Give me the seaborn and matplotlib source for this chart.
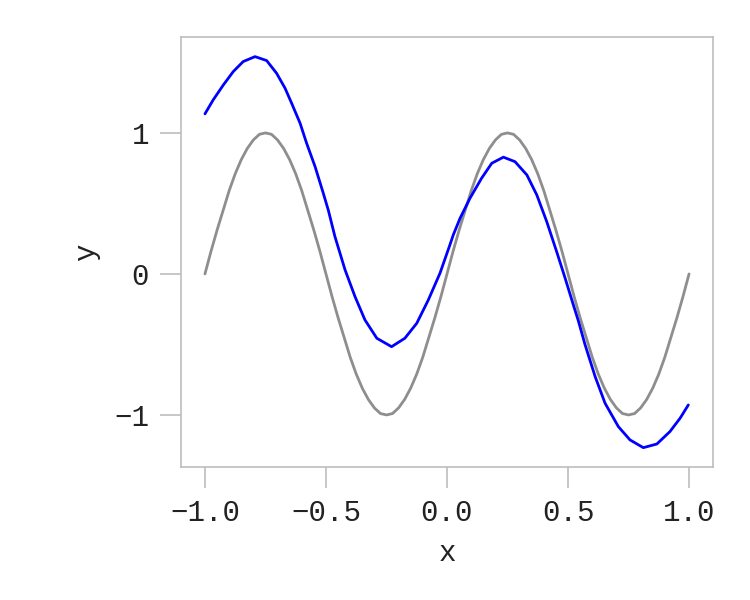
import numpy as np
import pandas as pd
import matplotlib
matplotlib.use("Agg")
import matplotlib.pyplot as plt
import seaborn as sns

# Gray series
gray_x = [-1.0, -0.975, -0.95, -0.925, -0.9, -0.875, -0.85, -0.825, -0.8, -0.775,
          -0.75, -0.725, -0.7, -0.675, -0.65, -0.625, -0.6, -0.575, -0.55, -0.525,
          -0.5, -0.475, -0.45, -0.425, -0.4, -0.375, -0.35, -0.325, -0.3, -0.275,
          -0.25, -0.225, -0.2, -0.175, -0.15, -0.125, -0.1, -0.075, -0.05, -0.025,
          0.0, 0.025, 0.05, 0.075, 0.1, 0.125, 0.15, 0.175, 0.2, 0.225,
          0.25, 0.275, 0.3, 0.325, 0.35, 0.375, 0.4, 0.425, 0.45, 0.475,
          0.5, 0.525, 0.55, 0.575, 0.6, 0.625, 0.65, 0.675, 0.7, 0.725,
          0.75, 0.775, 0.8, 0.825, 0.85, 0.875, 0.9, 0.925, 0.95, 0.975, 1.0]
gray_y = [0.0, 0.16, 0.31, 0.45, 0.59, 0.71, 0.81, 0.89, 0.95, 0.99,
          1.0, 0.99, 0.95, 0.89, 0.81, 0.71, 0.59, 0.45, 0.31, 0.16,
          0.0, -0.16, -0.31, -0.45, -0.59, -0.71, -0.81, -0.89, -0.95, -0.99,
          -1.0, -0.99, -0.95, -0.89, -0.81, -0.71, -0.59, -0.45, -0.31, -0.16,
          0.0, 0.16, 0.31, 0.45, 0.59, 0.71, 0.81, 0.89, 0.95, 0.99,
          1.0, 0.99, 0.95, 0.89, 0.81, 0.71, 0.59, 0.45, 0.31, 0.16,
          0.0, -0.16, -0.31, -0.45, -0.59, -0.71, -0.81, -0.89, -0.95, -0.99,
          -1.0, -0.99, -0.95, -0.89, -0.81, -0.71, -0.59, -0.45, -0.31, -0.16, 0.0]

# Blue series
blue_x = [-1.0, -0.966, -0.924, -0.883, -0.842, -0.793, -0.745, -0.704, -0.669,
          -0.642, -0.607, -0.580, -0.545, -0.511, -0.490, -0.463, -0.421, -0.380,
          -0.339, -0.290, -0.229, -0.174, -0.125, -0.077, -0.029, 0.012, 0.026,
          0.054, 0.095, 0.143, 0.185, 0.233, 0.281, 0.330, 0.371, 0.412, 0.453,
          0.488, 0.522, 0.543, 0.570, 0.612, 0.653, 0.708, 0.756, 0.811, 0.867,
          0.921, 0.963, 0.997]
blue_y = [1.135, 1.234, 1.340, 1.435, 1.506, 1.541, 1.513, 1.423, 1.317,
          1.211, 1.069, 0.927, 0.761, 0.572, 0.450, 0.265, 0.028, -0.161,
          -0.326, -0.456, -0.516, -0.456, -0.350, -0.184, 0.005, 0.206, 0.277,
          0.395, 0.537, 0.679, 0.785, 0.828, 0.796, 0.702, 0.560, 0.371, 0.158,
          -0.030, -0.220, -0.335, -0.500, -0.728, -0.917, -1.083, -1.177, -1.232, -1.206,
          -1.118, -1.023, -0.929]

x_ticks = [-1.0, -0.5, 0.0, 0.5, 1.0]
x_tick_labels = ["\u22121.0", "\u22120.5", "0.0", "0.5", "1.0"]
y_ticks = [-1, 0, 1]
y_tick_labels = ["\u22121", "0", "1"]

sns.set_style("white")
plt.rcParams["font.family"] = ["Liberation Mono", "DejaVu Sans Mono"]

fig = plt.figure(figsize=(7.5, 6), dpi=100)
ax = fig.add_axes([0.2413, 0.2217, 0.9507 - 0.2413, 0.9383 - 0.2217])

gray_df = pd.DataFrame({"x": gray_x, "y": gray_y})
blue_df = pd.DataFrame({"x": blue_x, "y": blue_y})
sns.lineplot(data=gray_df, x="x", y="y", ax=ax, color="#8e8e8e", lw=2.0, sort=False)
sns.lineplot(data=blue_df, x="x", y="y", ax=ax, color="#0000ff", lw=2.0, sort=False)

ax.set_xlim(-1.099, 1.099)
ax.set_ylim(-1.369, 1.68)
ax.set_xticks(x_ticks)
ax.set_xticklabels(x_tick_labels)
ax.set_yticks(y_ticks)
ax.set_yticklabels(y_tick_labels)

for s in ax.spines.values():
    s.set_visible(True)
    s.set_color("#bdbdbd")
    s.set_linewidth(1.2)

ax.tick_params(axis="both", which="major", direction="out", length=15, width=1.2,
               color="#bdbdbd", labelsize=21, labelcolor="#222222", pad=8,
               bottom=True, left=True)
ax.set_xlabel("x", fontsize=21, color="#222222", labelpad=9)
ax.set_ylabel("y", fontsize=21, color="#222222", labelpad=10)

fig.savefig("out.png", dpi=100)
